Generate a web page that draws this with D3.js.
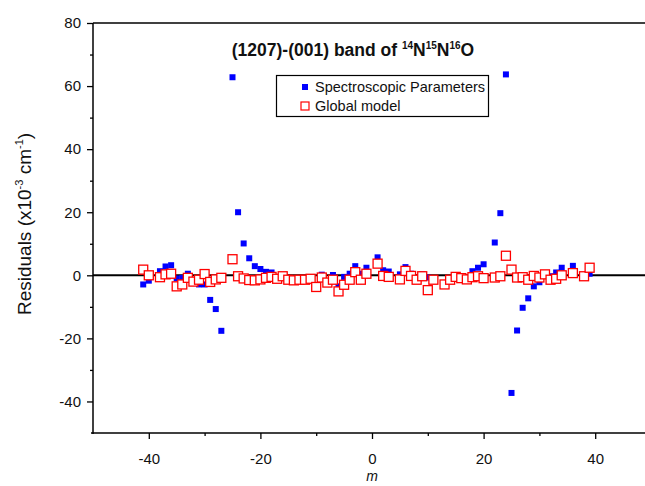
<!DOCTYPE html>
<html>
<head>
<meta charset="utf-8">
<script src="https://cdn.jsdelivr.net/npm/d3@7"></script>
<style>
  body { margin: 0; background: #fff; }
  svg { font-family: Arial, "Liberation Sans", sans-serif; }
</style>
</head>
<body>
<svg id="chart" width="645" height="486"></svg>
<script>
// transition index m, shared by both series
const mValues = [-41,-40,-38,-37,-36,-35,-34,-33,-32,-31,-30,-29,-28,-27,-25,-24,-23,-22,-21,-20,
  -19,-18,-17,-16,-15,-14,-13,-12,-11,-10,-9,-8,-7,-6,-5,-4,-3,-2,-1,
  1,2,3,5,6,7,8,9,10,11,13,14,15,16,17,18,19,20,22,23,24,25,26,27,28,29,30,31,32,33,34,36,38,39];

// residuals, x10^-3 cm-1
const spectroResid = [-2.9,-1.7,1.3,2.8,3.2,-1.0,-0.8,0.5,-1.8,-2.9,-2.9,-7.8,-10.7,-17.6,62.8,20.0,10.1,5.4,2.9,2.0,
  1.1,0.9,-0.8,-0.3,-1.2,-1.4,-1.2,-1.2,-0.9,-3.5,0.2,-2.2,0.1,-3.5,-0.5,0.5,2.9,0.5,2.4,
  5.7,1.6,1.2,0.3,2.6,0.5,-1.3,0.3,-0.7,-1.2,-2.8,-1.3,-0.4,-0.8,-1.0,1.3,2.4,3.5,10.4,19.7,63.7,-37.3,-17.5,-10.3,-7.3,-3.5,-2.2,0.2,-0.3,0.9,2.4,3.0,-0.2,0.5];

const globalResid = [1.8,0.0,-0.6,0.3,0.5,-3.5,-2.9,-0.8,-2.0,-1.4,0.4,-2.1,-1.3,-0.8,5.1,-0.3,-1.0,-1.5,-1.6,-1.3,
  -0.8,-0.5,-1.1,-0.3,-1.4,-1.6,-1.4,-1.4,-1.1,-3.7,-0.7,-2.3,-1.4,-5.1,-3.0,-1.4,1.0,-1.4,0.5,
  3.7,-0.2,-0.5,-1.3,1.4,-0.2,-1.4,-0.3,-4.7,-1.4,-2.9,-1.4,-0.5,-0.9,-1.3,-0.6,-0.3,-0.9,-0.7,-0.3,6.2,1.8,-0.7,-0.6,-1.4,-0.2,-0.7,0.3,-1.4,-1.1,0.0,0.7,-0.3,2.4];

const xMajor = [-40, -20, 0, 20, 40];
const xMinor = [-30, -10, 10, 30];
const yMajor = [-40, -20, 0, 20, 40, 60, 80];
const yMinor = [-30, -10, 10, 30, 50, 70];

const seriesNames = ["Spectroscopic Parameters", "Global model"];

const svg = d3.select('#chart');

const x = d3.scaleLinear().domain([-50, 50]).range([93, 651]);
const y = d3.scaleLinear().domain([-50, 80]).range([433, 23]);

const blue = '#0000ff';
const red = '#ff0000';
const hyphen = d => String(d); // plain hyphen minus, like the original

// minor ticks first (shorter), then major with labels
svg.append('g')
  .attr('transform', `translate(0,${y(-50)})`)
  .call(d3.axisBottom(x).tickValues(xMinor).tickSize(3).tickFormat(''))
  .call(g => g.select('.domain').remove())
  .call(g => g.selectAll('line').attr('stroke-width', 1.3));

const xAxis = svg.append('g')
  .attr('transform', `translate(0,${y(-50)})`)
  .call(d3.axisBottom(x).tickValues(xMajor).tickSize(6).tickFormat(hyphen));
xAxis.select('.domain').attr('stroke-width', 1.5).attr('d', `M${x(-50) - 2},0H645`);
xAxis.selectAll('line').attr('stroke-width', 1.3);
xAxis.selectAll('text').attr('font-size', 15).attr('fill', '#111')
  .attr('font-family', 'Arial, "Liberation Sans", sans-serif').attr('dy', 0).attr('y', 31);

svg.append('g')
  .attr('transform', `translate(${x(-50)},0)`)
  .call(d3.axisLeft(y).tickValues(yMinor).tickSize(3).tickFormat(''))
  .call(g => g.select('.domain').remove())
  .call(g => g.selectAll('line').attr('stroke-width', 1.3));

const yAxis = svg.append('g')
  .attr('transform', `translate(${x(-50)},0)`)
  .call(d3.axisLeft(y).tickValues(yMajor).tickSize(6).tickPadding(6).tickFormat(hyphen));
yAxis.select('.domain').attr('stroke-width', 1.5).attr('d', `M0,${y(80)}V${y(-50) + 1}`);
yAxis.selectAll('line').attr('stroke-width', 1.3);
yAxis.selectAll('text').attr('font-size', 15).attr('fill', '#111')
  .attr('font-family', 'Arial, "Liberation Sans", sans-serif');

// top frame line
svg.append('line')
  .attr('x1', x(-50)).attr('x2', 645)
  .attr('y1', y(80)).attr('y2', y(80))
  .attr('stroke', '#000').attr('stroke-width', 1.5);

// zero line
svg.append('line')
  .attr('x1', x(-50)).attr('x2', 645)
  .attr('y1', y(0)).attr('y2', y(0))
  .attr('stroke', '#000').attr('stroke-width', 2);

// spectroscopic parameters: filled blue squares
svg.append('g').selectAll('rect')
  .data(mValues.map((m, i) => [m, spectroResid[i]]))
  .join('rect')
  .attr('x', d => x(d[0]) - 3)
  .attr('y', d => y(d[1]) - 3)
  .attr('width', 6).attr('height', 6)
  .attr('fill', blue);

// global model: open red squares (white inside, drawn on top)
svg.append('g').selectAll('rect')
  .data(mValues.map((m, i) => [m, globalResid[i]]))
  .join('rect')
  .attr('x', d => x(d[0]) - 4.5)
  .attr('y', d => y(d[1]) - 4.5)
  .attr('width', 9).attr('height', 9)
  .attr('fill', '#fff')
  .attr('stroke', red).attr('stroke-width', 1.3);

// title
const title = svg.append('text')
  .attr('x', 353).attr('y', 56)
  .attr('text-anchor', 'middle')
  .attr('font-size', 17.5).attr('font-weight', 'bold').attr('fill', '#111');
title.append('tspan').text('(1207)-(001) band of ');
[['14', 'N'], ['15', 'N'], ['16', 'O']].forEach(p => {
  title.append('tspan').attr('font-size', 10).attr('dy', -7).text(p[0]);
  title.append('tspan').attr('dy', 7).text(p[1]);
});

// legend
const leg = svg.append('g');
leg.append('rect')
  .attr('x', 276.5).attr('y', 75.5).attr('width', 212).attr('height', 41)
  .attr('fill', '#fff').attr('stroke', '#000').attr('stroke-width', 1.2);
leg.append('rect').attr('x', 302).attr('y', 84).attr('width', 6).attr('height', 6).attr('fill', blue);
leg.append('rect').attr('x', 301).attr('y', 102).attr('width', 8).attr('height', 8)
  .attr('fill', '#fff').attr('stroke', red).attr('stroke-width', 1.2);
leg.selectAll('text.lab')
  .data(seriesNames)
  .join('text')
  .attr('class', 'lab')
  .attr('x', 315)
  .attr('y', (d, i) => 92 + i * 19)
  .attr('font-size', 14.5).attr('fill', '#111')
  .text(d => d);

// axis titles
const yl = svg.append('text')
  .attr('transform', 'translate(31,224) rotate(-90)')
  .attr('text-anchor', 'middle')
  .attr('font-size', 19).attr('fill', '#111');
yl.append('tspan').text('Residuals (x10');
yl.append('tspan').attr('font-size', 11).attr('dy', -8).text('-3');
yl.append('tspan').attr('dy', 8).text(' cm');
yl.append('tspan').attr('font-size', 11).attr('dy', -8).text('-1');
yl.append('tspan').attr('dy', 8).text(')');

svg.append('text')
  .attr('x', x(0)).attr('y', 481)
  .attr('text-anchor', 'middle')
  .attr('font-size', 14).attr('font-style', 'italic').attr('fill', '#111')
  .text('m');
</script>
</body>
</html>
